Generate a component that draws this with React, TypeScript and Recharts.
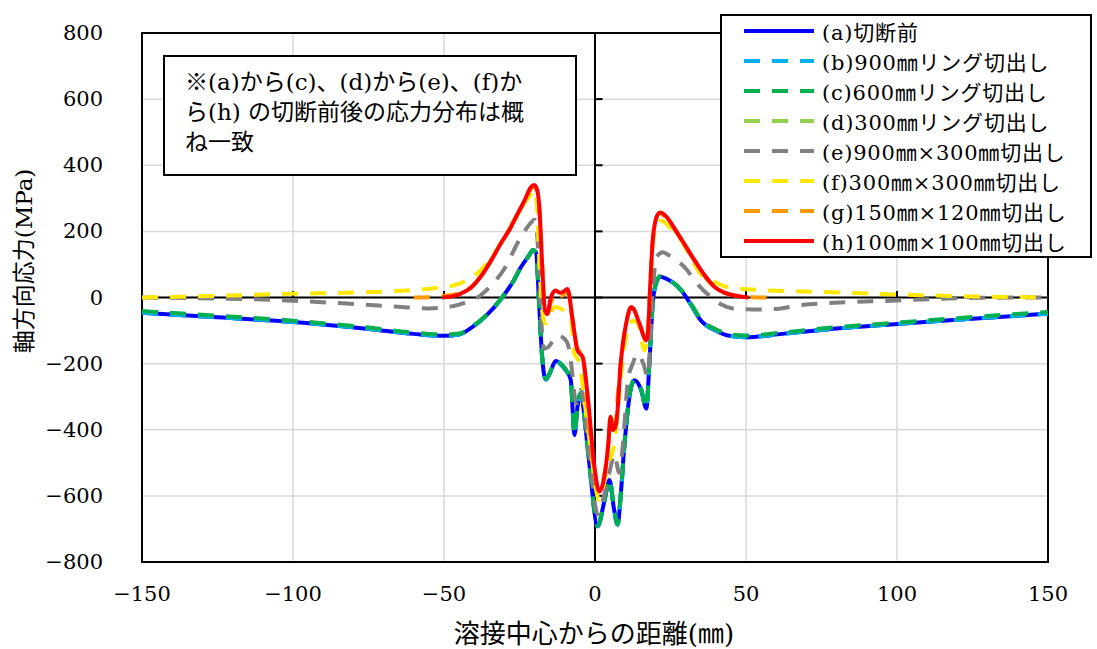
import {
  LineChart,
  Line,
  XAxis,
  YAxis,
  CartesianGrid,
  ReferenceLine,
  ReferenceArea,
  Legend,
} from "recharts";

const FONT = "'DejaVu Serif', 'Noto Sans CJK JP', serif";

// distance from weld centre (mm) vs axial stress (MPa)
const beforeCut: [number, number][] = [
  [-150, -46], [-125, -60], [-100, -74], [-75, -95], [-60, -110], [-50, -116], [-45, -112],
  [-41, -92], [-36, -55], [-31, -3], [-27, 50], [-24.5, 92], [-22, 125], [-20.5, 144],
  [-19.5, 135], [-18.5, -20], [-17.5, -180], [-16.3, -248], [-15, -230], [-13, -192],
  [-11, -205], [-9.5, -222], [-8, -250], [-7.4, -340], [-6.8, -416], [-5.8, -330],
  [-4.7, -290], [-3.3, -380], [-1.9, -501], [0.9, -692], [3, -620], [4.8, -552],
  [6.3, -640], [7.5, -687], [8.5, -600], [9.7, -451], [12, -270], [13.1, -250],
  [15.3, -280], [17, -336], [18, -200], [19.2, -9], [20.5, 50], [21.5, 63], [24, 55],
  [28.6, 21], [32, -25], [35, -69], [40, -100], [44, -115], [50, -120], [62, -110],
  [75, -98], [100, -80], [125, -64], [150, -49],
];

const ring600: [number, number][] = [
  [-150, -41], [-125, -55], [-100, -70], [-75, -91], [-60, -106], [-50, -112], [-45, -109],
  [-41, -90], [-36, -53], [-31, -2], [-27, 50], [-24.5, 92], [-22, 125], [-20.5, 144],
  [-19.5, 135], [-18.5, -20], [-17.5, -180], [-16.3, -246], [-15, -228], [-13, -190],
  [-11, -203], [-9.5, -220], [-8, -248], [-7.4, -338], [-6.8, -414], [-5.8, -328],
  [-4.7, -288], [-3.3, -378], [-1.9, -500], [0.9, -690], [3, -618], [4.8, -550],
  [6.3, -638], [7.5, -685], [8.5, -598], [9.7, -450], [12, -268], [13.1, -248],
  [15.3, -278], [17, -334], [18, -198], [19.2, -8], [20.5, 51], [21.5, 64], [24, 56],
  [28.6, 22], [32, -22], [35, -65], [40, -96], [44, -110], [50, -115], [62, -106],
  [75, -94], [100, -76], [125, -59], [150, -44],
];

const cut900x300: [number, number][] = [
  [-150, 0], [-125, -3], [-102, -9], [-85, -17], [-67, -27], [-55, -33], [-47, -26],
  [-42, -12], [-38, 6], [-34, 40], [-30, 87], [-25, 175], [-21, 228], [-20, 235],
  [-19, 170], [-18, -30], [-17, -155], [-15.5, -150], [-12.4, -115], [-9.6, -130],
  [-8, -190], [-7.2, -260], [-6.2, -320], [-4.7, -280], [-2, -470], [0.9, -655],
  [3, -600], [5, -520], [6.4, -475], [8, -530], [9.2, -450], [10.9, -250], [12.5, -200],
  [14.2, -170], [16, -200], [17.5, -240], [19, 0], [20.3, 121], [22.5, 137], [24, 130],
  [29.7, 91], [34, 40], [38.6, 0], [42, -22], [46.3, -34], [55, -36], [61, -34],
  [67, -24], [100, -9], [128, -1], [150, 0],
];

const cut300x300: [number, number][] = [
  [-150, 0], [-125, 5], [-102, 11], [-80, 15], [-67, 19], [-58, 24], [-51, 31], [-47, 36],
  [-42, 55], [-38, 81], [-34, 125], [-30, 182], [-25, 262], [-21.3, 312], [-20.3, 325],
  [-19.3, 290], [-18.5, 120], [-17.4, -49], [-16.3, -79], [-14, -35], [-13, -29],
  [-11.3, -34], [-9, -50], [-8, -59], [-6.9, -170], [-5.5, -190], [-2, -420], [1.4, -612],
  [3, -560], [4.5, -500], [6.4, -441], [8, -300], [9.5, -160], [10.9, -100], [12.5, -70],
  [14.2, -79], [16.4, -160], [17.5, -100], [19, 150], [20.5, 220], [22, 232], [25, 210],
  [28.6, 172], [32, 115], [35, 71], [40, 45], [44, 31], [52, 24], [78, 16], [100, 9],
  [128, 3], [150, 0],
];

const cut150x120: [number, number][] = [
  [-60, 0], [-55, 1], [-50, 5], [-45, 13], [-41, 32], [-38, 62], [-34.5, 112], [-31, 166],
  [-28, 212], [-25.7, 250], [-23, 296], [-21.3, 328], [-20.2, 335], [-19.3, 322],
  [-18.5, 275], [-17.4, 80], [-16.6, -40], [-15.8, -48], [-14.5, -12], [-13, 15],
  [-11, 5], [-9.1, 18], [-7.4, -69], [-5.8, -155], [-4.1, -175], [-1.9, -400],
  [1.4, -585], [3, -540], [4.4, -450], [5.3, -365], [6.4, -415], [7.5, -300], [8.6, -190],
  [10.3, -80], [12, -30], [14.7, -80], [17, -128], [17.5, -110], [18.3, 40], [19.2, 180],
  [20.7, 248], [21.6, 255], [23, 246], [27.5, 190], [33, 110], [36.5, 62], [39.7, 30],
  [43, 14], [46.3, 6], [50.8, 2], [55, 0], [60, 0],
];

const cut100x100: [number, number][] = [
  [-50.6, 0], [-47, 4], [-44.6, 11], [-41, 30], [-38, 61], [-34.5, 110], [-31.3, 162],
  [-28, 210], [-25.7, 252], [-23, 300], [-21.3, 333], [-20.2, 340], [-19.3, 330],
  [-18.5, 282], [-17.4, 81], [-16.6, -39], [-15.8, -50], [-14.6, 0], [-13, 21],
  [-11.5, 14], [-10.7, 16], [-9.1, 26], [-7.4, -69], [-5.8, -160], [-4.1, -180],
  [-2.4, -300], [-0.2, -512], [1.4, -587], [3.1, -542], [4.4, -441], [5.1, -361],
  [5.9, -401], [7, -381], [8.6, -190], [10.3, -79], [12, -29], [12.8, -35], [14.7, -79],
  [17, -130], [17.5, -110], [18.3, 40], [19.2, 182], [20.7, 250], [21.6, 257], [23, 250],
  [27.5, 192], [33, 112], [36.5, 65], [39.7, 31], [43, 14], [46.3, 6], [50.8, 0],
];

const xTicks = [-150, -100, -50, 0, 50, 100, 150];
const yTicks = [-800, -600, -400, -200, 0, 200, 400, 600, 800];

// legend order; `z` is the drawing order (d sits underneath the others)
const series = [
  { key: "a", z: 1, name: "(a)切断前", points: beforeCut, color: "#0000ff", dash: undefined },
  { key: "b", z: 2, name: "(b)900㎜リング切出し", points: beforeCut, color: "#00b0f0", dash: "16 12" },
  { key: "c", z: 3, name: "(c)600㎜リング切出し", points: ring600, color: "#00b050", dash: "16 12" },
  { key: "d", z: 0, name: "(d)300㎜リング切出し", points: beforeCut, color: "#92d050", dash: "16 12" },
  { key: "e", z: 4, name: "(e)900㎜×300㎜切出し", points: cut900x300, color: "#808080", dash: "16 12" },
  { key: "f", z: 5, name: "(f)300㎜×300㎜切出し", points: cut300x300, color: "#ffe800", dash: "16 12" },
  { key: "g", z: 6, name: "(g)150㎜×120㎜切出し", points: cut150x120, color: "#ff9900", dash: "16 12" },
  { key: "h", z: 7, name: "(h)100㎜×100㎜切出し", points: cut100x100, color: "#ff0000", dash: undefined },
];

const minus = (v: number) => String(v).replace("-", "−");

function XTick(props: any) {
  const { x, y, payload } = props;
  return (
    <text x={x} y={y} dy={19} textAnchor="middle" fill="#000" fontFamily={FONT} fontSize={21}>
      {minus(payload.value)}
    </text>
  );
}

function YTick(props: any) {
  const { x, y, payload } = props;
  return (
    <text x={x} y={y} dy={7} textAnchor="end" fill="#000" fontFamily={FONT} fontSize={21}>
      {minus(payload.value)}
    </text>
  );
}

function LegendBox() {
  return (
    <div
      style={{
        width: 368,
        border: "2px solid #000",
        background: "#fff",
        fontFamily: FONT,
        fontSize: 21,
        letterSpacing: 0.8,
        color: "#000",
      }}
    >
      {series.map((s) => (
        <div key={s.key} style={{ height: 30, display: "flex", alignItems: "center" }}>
          <svg width={100} height={30} style={{ flex: "none" }}>
            <line
              x1={22}
              x2={92}
              y1={15}
              y2={15}
              stroke={s.color}
              strokeWidth={4}
              strokeDasharray={s.dash}
            />
          </svg>
          <span style={{ whiteSpace: "nowrap" }}>{s.name}</span>
        </div>
      ))}
    </div>
  );
}

export default function App() {
  const drawOrder = [...series].sort((p, q) => p.z - q.z);
  return (
    <div
      style={{
        position: "absolute",
        left: 0,
        top: 0,
        width: 1097,
        height: 649,
        background: "#fff",
        fontFamily: FONT,
      }}
    >
      <LineChart width={1097} height={649} margin={{ top: 33, right: 49, bottom: 0, left: 0 }}>
        <CartesianGrid stroke="#d9d9d9" strokeWidth={1.5} />
        <XAxis
          type="number"
          dataKey="x"
          domain={[-150, 150]}
          ticks={xTicks}
          height={87}
          tickSize={0}
          tickMargin={20}
          axisLine={false}
          tick={<XTick />}
          label={{
            content: () => (
              <text x={594} y={643} textAnchor="middle" fill="#000" fontFamily={FONT} fontSize={26}>
                溶接中心からの距離(㎜)
              </text>
            ),
          }}
        />
        <YAxis
          type="number"
          dataKey="y"
          domain={[-800, 800]}
          ticks={yTicks}
          width={142}
          tickSize={0}
          tickMargin={39}
          axisLine={false}
          tick={<YTick />}
          label={{
            content: () => (
              <text
                x={24}
                y={261}
                transform="rotate(-90 24 261)"
                textAnchor="middle"
                dominantBaseline="central"
                fill="#000"
                fontFamily={FONT}
                fontSize={23}
              >
                軸方向応力(MPa)
              </text>
            ),
          }}
        />
        <ReferenceLine y={0} stroke="#000" strokeWidth={2} />
        <ReferenceLine x={0} stroke="#000" strokeWidth={2} />
        {xTicks.map((t) => (
          <ReferenceLine
            key={"xt" + t}
            segment={[{ x: t, y: 0 }, { x: t, y: 20 }]}
            stroke="#000"
            strokeWidth={2}
          />
        ))}
        {yTicks.map((t) => (
          <ReferenceLine
            key={"yt" + t}
            segment={[{ x: 0, y: t }, { x: 2.5, y: t }]}
            stroke="#000"
            strokeWidth={2}
          />
        ))}
        {drawOrder.map((s) => (
          <Line
            key={s.key}
            data={s.points.map(([x, y]) => ({ x, y }))}
            dataKey="y"
            name={s.name}
            type="monotone"
            stroke={s.color}
            strokeWidth={4}
            strokeDasharray={s.dash}
            dot={false}
            activeDot={false}
            isAnimationActive={false}
          />
        ))}
        <ReferenceArea
          x1={-150}
          x2={150}
          y1={-800}
          y2={800}
          fill="none"
          stroke="#000"
          strokeWidth={2}
          ifOverflow="visible"
        />
        <Legend
          layout="vertical"
          align="center"
          verticalAlign="middle"
          content={() => <LegendBox />}
          wrapperStyle={{ left: 720, top: 14, width: 372 }}
        />
      </LineChart>
      <div
        style={{
          position: "absolute",
          left: 163,
          top: 55,
          width: 390,
          height: 107,
          border: "2px solid #000",
          background: "#fff",
          padding: "10px 0 0 20px",
          fontFamily: FONT,
          fontSize: 23,
          lineHeight: "30px",
          color: "#000",
          whiteSpace: "nowrap",
        }}
      >
        ※(a)から(c)、(d)から(e)、(f)か
        <br />
        ら(h) の切断前後の応力分布は概
        <br />
        ね一致
      </div>
    </div>
  );
}
